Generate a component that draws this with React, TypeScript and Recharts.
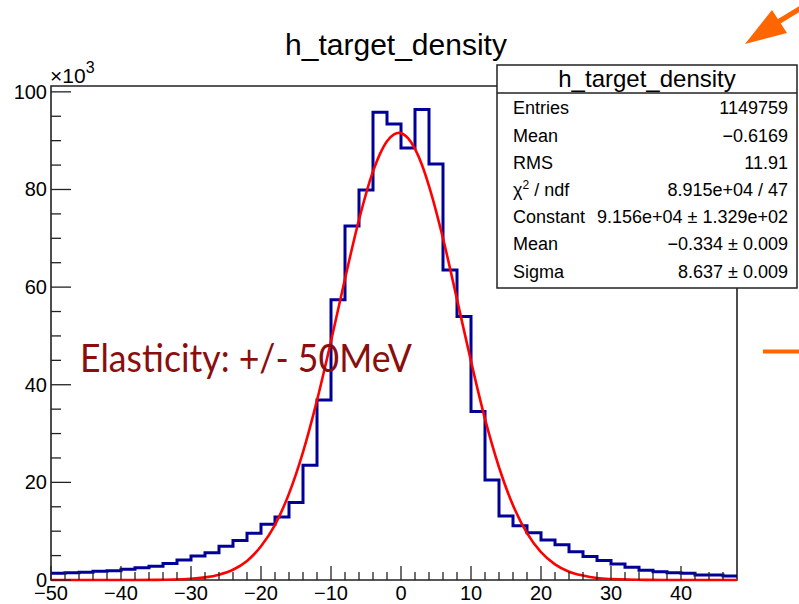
import React from 'react';
import { ComposedChart, Line, XAxis, YAxis, ReferenceArea } from 'recharts';

// histogram bins (low edges, width 2), counts in units of 10^3
const binLowEdges = [
  -50, -48, -46, -44, -42, -40, -38, -36, -34, -32, -30, -28, -26, -24, -22, -20, -18,
  -16, -14, -12, -10, -8, -6, -4, -2, 0, 2, 4, 6, 8, 10, 12, 14, 16, 18, 20, 22, 24,
  26, 28, 30, 32, 34, 36, 38, 40, 42, 44, 46,
];
const binCounts = [
  1.4, 1.5, 1.6, 1.8, 1.9, 2.2, 2.5, 2.8, 3.4, 4.1, 4.9, 5.6, 6.9, 8.1, 9.6, 11.4, 12.9,
  15.9, 23.5, 36.9, 57.4, 72.5, 79.9, 95.8, 93.4, 88.5, 96.4, 85.2, 63.5, 54.0, 34.5, 20.5, 13.1, 11.1, 9.7, 8.2, 7.2, 5.8,
  4.8, 4.0, 3.3, 2.6, 2.0, 1.7, 1.5, 1.4, 1.0, 1.0, 0.8,
];
const binWidth = 2;

// gaussian fit curve
const fitX = [
  -50, -40, -35, -30, -28, -26, -24, -22, -20, -18, -16, -14, -12, -10, -8, -6, -4, -3, -2, -1,
  -0.3, 1, 2, 3, 4, 6, 8, 10, 12, 14, 16, 18, 20, 22, 24, 26, 28, 30, 35, 40, 48,
];
const fitY = [
  0, 0, 0.03, 0.25, 0.54, 1.1, 2.1, 3.9, 6.9, 11.3, 17.7, 26.2, 36.8, 48.9, 61.7, 73.8, 83.7, 87.3, 89.9, 91.3,
  91.6, 90.5, 88.3, 85.0, 80.7, 70.0, 57.5, 44.8, 33.0, 23.1, 15.3, 9.6, 5.7, 3.2, 1.7, 0.9, 0.4, 0.2, 0.02, 0, 0,
];

const xTicks = [
  -50, -48, -46, -44, -42, -40, -38, -36, -34, -32, -30, -28, -26, -24, -22, -20, -18,
  -16, -14, -12, -10, -8, -6, -4, -2, 0, 2, 4, 6, 8, 10, 12, 14, 16, 18, 20, 22, 24,
  26, 28, 30, 32, 34, 36, 38, 40, 42, 44, 46,
];
const xLabels = [-50, -40, -30, -20, -10, 0, 10, 20, 30, 40];
const yTicks = [0, 5, 10, 15, 20, 25, 30, 35, 40, 45, 50, 55, 60, 65, 70, 75, 80, 85, 90, 95, 100];
const yLabels = [0, 20, 40, 60, 80, 100];

const statsTitle = 'h_target_density';
const statsRows = [
  ['Entries', '1149759'],
  ['Mean', '\u22120.6169'],
  ['RMS', '11.91'],
  ['chi2', '8.915e+04 / 47'],
  ['Constant', '9.156e+04 \u00b1 1.329e+02'],
  ['Mean', '\u22120.334 \u00b1 0.009'],
  ['Sigma', '8.637 \u00b1 0.009'],
];

const X_MIN = -50;
const X_MAX = 48;
const Y_MAX = 101.2;

const W = 799;
const H = 604;
const PLOT_LEFT = 51;
const PLOT_RIGHT = 737;
const PLOT_TOP = 86;
const PLOT_BOTTOM = 580;

const FONT = '"Liberation Sans", Arial, Helvetica, sans-serif';
const AXIS = '#222';
const BLUE = '#000099';
const RED = '#ff0000';
const ORANGE = '#ff6600';

const histData = [
  ...binLowEdges.map((e, i) => ({ x: e, y: binCounts[i] })),
  { x: binLowEdges[binLowEdges.length - 1] + binWidth, y: binCounts[binCounts.length - 1] },
];
const fitData = fitX.map((x, i) => ({ x, y: fitY[i] }));

const fmt = (v: number) => (v < 0 ? '\u2212' + Math.abs(v) : String(v));

const XTick = (props: any) => {
  const { x, payload } = props;
  const major = xLabels.includes(payload.value);
  return (
    <g>
      <line x1={x} x2={x} y1={PLOT_BOTTOM} y2={PLOT_BOTTOM - (major ? 14 : 8)} stroke={AXIS} strokeWidth={1.3} />
      {major && (
        <text x={x} y={PLOT_BOTTOM + 20} textAnchor="middle" fontSize={20} fill="#000" fontFamily={FONT}>
          {fmt(payload.value)}
        </text>
      )}
    </g>
  );
};

const YTick = (props: any) => {
  const { y, payload } = props;
  const major = yLabels.includes(payload.value);
  return (
    <g>
      <line x1={PLOT_LEFT} x2={PLOT_LEFT + (major ? 20 : 10)} y1={y} y2={y} stroke={AXIS} strokeWidth={1.3} />
      {major && (
        <text x={PLOT_LEFT - 4} y={y + 7} textAnchor="end" fontSize={20} fill="#000" fontFamily={FONT}>
          {payload.value}
        </text>
      )}
    </g>
  );
};

export default function App() {
  return (
    <div style={{ position: 'absolute', left: 0, top: 0, width: W, height: H, background: '#fff', fontFamily: FONT }}>
      <ComposedChart
        width={W}
        height={H}
        margin={{ top: PLOT_TOP, right: W - PLOT_RIGHT, bottom: 0, left: 0 }}
      >
        <XAxis
          type="number"
          dataKey="x"
          domain={[X_MIN, X_MAX]}
          ticks={xTicks}
          interval={0}
          height={H - PLOT_BOTTOM}
          axisLine={false}
          tickLine={false}
          tick={XTick}
        />
        <YAxis
          type="number"
          dataKey="y"
          domain={[0, Y_MAX]}
          ticks={yTicks}
          interval={0}
          width={PLOT_LEFT}
          axisLine={false}
          tickLine={false}
          tick={YTick}
        />
        <ReferenceArea x1={X_MIN} x2={X_MAX} y1={0} y2={Y_MAX} fill="none" stroke={AXIS} strokeWidth={1.6} />
        <Line
          data={histData}
          dataKey="y"
          type="stepAfter"
          stroke={BLUE}
          strokeWidth={3}
          dot={false}
          isAnimationActive={false}
        />
        <Line
          data={fitData}
          dataKey="y"
          type="monotone"
          stroke={RED}
          strokeWidth={2.6}
          dot={false}
          isAnimationActive={false}
        />
      </ComposedChart>

      <svg
        width={W}
        height={H}
        style={{ position: 'absolute', left: 0, top: 0, pointerEvents: 'none' }}
        fontFamily={FONT}
      >
        <text x={396} y={55} textAnchor="middle" fontSize={30} fill="#000">
          h_target_density
        </text>
        <text x={50} y={83} fontSize={21} fill="#000">
          ×10<tspan dy={-10} fontSize={16}>3</tspan>
        </text>

        {/* stats box */}
        <rect x={497} y={65} width={300} height={223} fill="#fff" stroke={AXIS} strokeWidth={1.5} />
        <line x1={497} x2={797} y1={93} y2={93} stroke={AXIS} strokeWidth={1.3} />
        <text x={647} y={87} textAnchor="middle" fontSize={24} fill="#000">
          {statsTitle}
        </text>
        {statsRows.map(([label, value], i) => {
          const y = 114.3 + 27.2 * i;
          return (
            <g key={i}>
              {label === 'chi2' ? (
                <text x={513} y={y} fontSize={18} fill="#000">
                  χ<tspan dy={-7} fontSize={12}>2</tspan>
                  <tspan dy={7}> / ndf</tspan>
                </text>
              ) : (
                <text x={513} y={y} fontSize={18} fill="#000">
                  {label}
                </text>
              )}
              <text x={788} y={y} textAnchor="end" fontSize={18} fill="#000">
                {value}
              </text>
            </g>
          );
        })}

        <text
          x={80}
          y={372}
          fontSize={39}
          fill="#8b0e0e"
          fontFamily="Lato, 'Open Sans', sans-serif"
          textLength={332}
          lengthAdjust="spacingAndGlyphs"
        >
          Elasticity: +/- 50MeV
        </text>

        {/* orange marks at the right edge */}
        <polygon points="745,44 772,10 787,33" fill={ORANGE} />
        <line x1={778} y1={22} x2={801} y2={8} stroke={ORANGE} strokeWidth={5} />
        <rect x={763} y={349.5} width={36} height={4} fill={ORANGE} />
      </svg>
    </div>
  );
}
